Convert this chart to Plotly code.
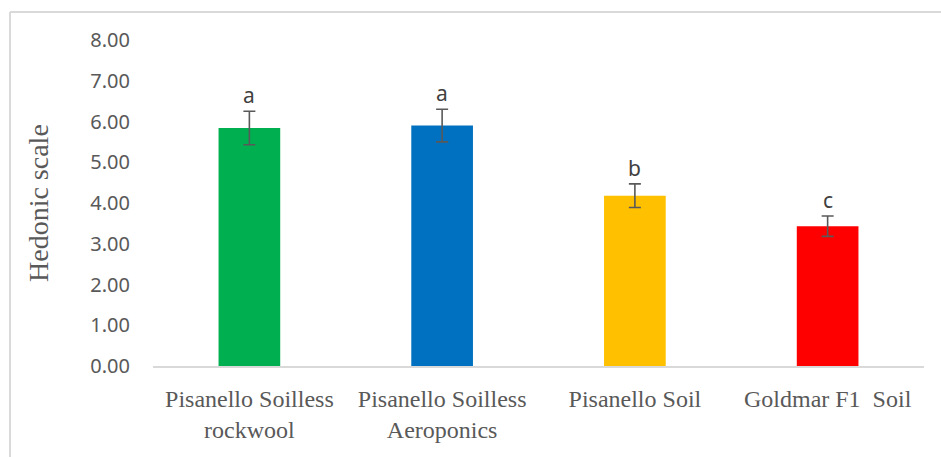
import plotly.graph_objects as go

categories = ["Pisanello Soilless<br>rockwool", "Pisanello Soilless<br>Aeroponics", "Pisanello Soil", "Goldmar F1  Soil"]
values = [5.84, 5.90, 4.18, 3.43]
errors = [0.41, 0.40, 0.29, 0.25]
letters = ["a", "a", "b", "c"]
colors = ["#00B050", "#0070C0", "#FFC000", "#FF0000"]
y_ticks = [0, 1, 2, 3, 4, 5, 6, 7, 8]

fig = go.Figure()
fig.add_trace(go.Bar(
    x=categories, y=values,
    marker=dict(color=colors, line=dict(width=0)),
    width=0.32,
    error_y=dict(type="data", array=errors, visible=True, color="#595959", thickness=1.6, width=6),
    showlegend=False,
))

for c, v, e, l in zip(categories, values, errors, letters):
    fig.add_annotation(x=c, y=v + e, text=l, showarrow=False, yanchor="bottom", yshift=0,
                       font=dict(family="Noto Sans", size=21, color="#404040"))

fig.add_annotation(xref="paper", yref="paper", x=(38 - 153) / 771, y=0.5, text="Hedonic scale",
                   textangle=-90, showarrow=False, xanchor="center", yanchor="middle",
                   font=dict(family="Liberation Serif", size=28, color="#595959"))

# outer chart border (top and left)
fig.add_shape(type="line", xref="paper", yref="paper", x0=(10 - 153) / 771, x1=(941 - 153) / 771,
              y0=(366 - 12) / 326, y1=(366 - 12) / 326, line=dict(color="#D9D9D9", width=2))
fig.add_shape(type="line", xref="paper", yref="paper", x0=(10 - 153) / 771, x1=(10 - 153) / 771,
              y0=(366 - 12) / 326, y1=(366 - 470) / 326, line=dict(color="#D9D9D9", width=2))

fig.update_layout(
    width=941, height=457,
    margin=dict(l=153, r=17, t=40, b=91),
    paper_bgcolor="white", plot_bgcolor="white",
    bargap=0.68,
    xaxis=dict(showgrid=False, showline=True, linecolor="#D9D9D9", linewidth=2, ticks="",
               tickfont=dict(family="Liberation Serif", size=24, color="#595959"),
               ticklabelstandoff=10),
    yaxis=dict(range=[0, 8], tickvals=y_ticks, tickformat=".2f", showgrid=False, zeroline=False,
               showline=False, ticks="",
               tickfont=dict(family="Noto Sans", size=20, color="#595959"),
               ticklabelstandoff=22),
)

fig.write_html("out.html")
